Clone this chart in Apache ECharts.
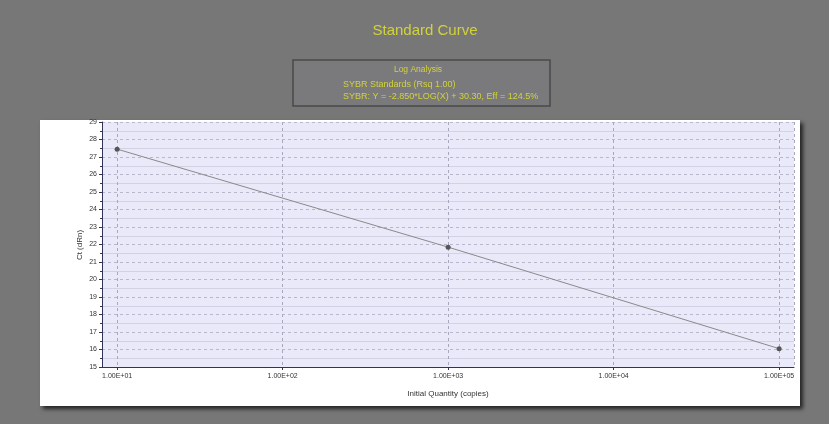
<!DOCTYPE html>
<html>
<head>
<meta charset="utf-8">
<script src="https://cdn.jsdelivr.net/npm/echarts@6/dist/echarts.min.js"></script>
<style>
html,body{margin:0;padding:0;background:#777777;}
#c{width:829px;height:424px;}
</style>
</head>
<body>
<div id="c"></div>
<script>
// Data
var quantities = [10, 1000, 100000];
var ctValues = [27.45, 21.85, 16.05];
var xTickLabels = ['1.00E+01', '1.00E+02', '1.00E+03', '1.00E+04', '1.00E+05'];
var titleText = 'Standard Curve';
var legendLines = ['Log Analysis', 'SYBR Standards (Rsq 1.00)', 'SYBR: Y = -2.850*LOG(X) + 30.30, Eff = 124.5%'];
var xName = 'Initial Quantity (copies)';
var yName = 'Ct (dRn)';

var chart = echarts.init(document.getElementById('c'), null, {renderer: 'canvas'});
var yellow = '#d2d23a';
var option = {
  backgroundColor: '#777777',
  animation: false,
  title: {
    text: titleText, left: 420, top: 18, textAlign: 'center',
    textStyle: {color: yellow, fontSize: 15, fontWeight: 'normal', fontFamily: 'Liberation Sans'}
  },
  graphic: [
    {type: 'rect', z: -10, shape: {x: 40, y: 120, width: 760, height: 286},
     style: {fill: '#ffffff', shadowBlur: 4, shadowOffsetX: 3, shadowOffsetY: 3, shadowColor: 'rgba(0,0,0,0.7)'}},
    {type: 'rect', z: -10, shape: {x: 293, y: 60, width: 257, height: 46},
     style: {fill: '#7a7a7c', stroke: '#4a4a4a', lineWidth: 1.5}},
    {type: 'text', z: 5, x: 418, y: 70, style: {text: legendLines[0], fill: yellow, fontSize: 8.5, fontFamily: 'Liberation Sans', textAlign: 'center', textVerticalAlign: 'middle'}},
    {type: 'text', z: 5, x: 343, y: 85, style: {text: legendLines[1], fill: yellow, fontSize: 9, fontFamily: 'Liberation Sans', textAlign: 'left', textVerticalAlign: 'middle'}},
    {type: 'text', z: 5, x: 343, y: 97, style: {text: legendLines[2], fill: yellow, fontSize: 9, fontFamily: 'Liberation Sans', textAlign: 'left', textVerticalAlign: 'middle'}},
    {type: 'text', z: 5, x: 80, y: 245, rotation: Math.PI / 2, style: {text: yName, fill: '#333', fontSize: 8, fontFamily: 'Liberation Sans', textAlign: 'center', textVerticalAlign: 'middle'}}
  ],
  grid: {left: 102, right: 35, top: 122, bottom: 57, show: true, backgroundColor: '#e9e9fa', borderWidth: 0},
  xAxis: {
    type: 'log', logBase: 10, min: 8.1, max: 123000,
    name: xName, nameLocation: 'middle', nameGap: 23,
    nameTextStyle: {color: '#333', fontSize: 8, fontFamily: 'Liberation Sans'},
    axisLine: {lineStyle: {color: '#333355', width: 1}},
    axisTick: {show: true, length: 3, inside: false, lineStyle: {color: '#333355'}},
    minorTick: {show: false},
    axisLabel: {
      color: '#333', fontSize: 7, fontFamily: 'Liberation Sans', margin: 6,
      showMinLabel: false, showMaxLabel: false,
      formatter: function (v) {
        var e = Math.round(Math.log(v) / Math.LN10);
        if (Math.abs(Math.log(v) / Math.LN10 - e) > 1e-6) return '';
        return xTickLabels[e - 1] || '';
      }
    },
    splitLine: {show: true, lineStyle: {color: '#a8a8bc', type: [3, 3], width: 1}}
  },
  yAxis: {
    type: 'value', min: 15, max: 29, interval: 1,
    axisLine: {show: true, lineStyle: {color: '#333355', width: 1}},
    axisTick: {show: true, length: 3, lineStyle: {color: '#333355'}},
    minorTick: {show: true, splitNumber: 2, length: 2, lineStyle: {color: '#333355'}},
    axisLabel: {color: '#333', fontSize: 7, fontFamily: 'Liberation Sans', margin: 5},
    splitLine: {show: true, lineStyle: {color: '#b8b8cc', type: [3, 3], width: 1}},
    minorSplitLine: {show: true, lineStyle: {color: '#d2d2e4', width: 1}}
  },
  series: [{
    type: 'line',
    data: quantities.map(function (q, i) { return [q, ctValues[i]]; }),
    lineStyle: {color: '#8a8a8a', width: 1},
    itemStyle: {color: '#555555'},
    symbol: 'circle', symbolSize: 5,
    showSymbol: true
  }]
};
chart.setOption(option);
</script>
</body>
</html>
